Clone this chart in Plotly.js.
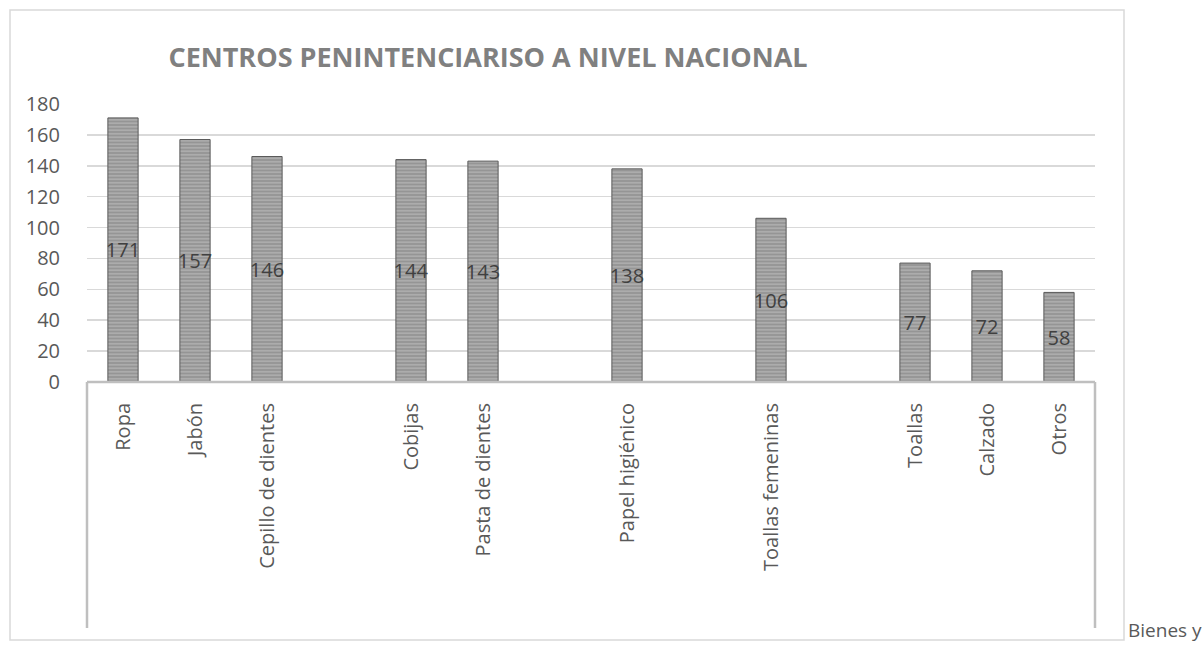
<!DOCTYPE html>
<html>
<head>
<meta charset="utf-8">
<script src="https://cdn.plot.ly/plotly-3.0.1.min.js"></script>
<style>html,body{margin:0;padding:0;background:#fff}#chart{width:1204px;height:645px}</style>
</head>
<body>
<div id="chart"></div>
<script>
// ---- data ----
const titleText = 'CENTROS PENINTENCIARISO A NIVEL NACIONAL';
const categories = ['Ropa', 'Jabón', 'Cepillo de dientes', 'Cobijas', 'Pasta de dientes', 'Papel higiénico', 'Toallas femeninas', 'Toallas', 'Calzado', 'Otros'];
const values = [171, 157, 146, 144, 143, 138, 106, 77, 72, 58];
const groupLabel = 'Bienes y';
const yTicks = [0, 20, 40, 60, 80, 100, 120, 140, 160, 180];
// empty slots on the category axis after these category indices
const gapAfter = [2, 4, 5, 6];

// build slot arrays (empty slots get unique blank names)
const xs = [], ys = [], txt = [];
let blank = ' ';
categories.forEach((c, i) => {
  xs.push(c); ys.push(values[i]); txt.push(String(values[i]));
  if (gapAfter.includes(i)) { xs.push(blank); ys.push(null); txt.push(''); blank += ' '; }
});

const L = 87, R = 1095, T = 104, B = 382, W = 1204, H = 645;
const pw = R - L, ph = B - T;
const px = v => (v - L) / pw;
const py = v => (B - v) / ph;
const FONT = 'Open Sans, sans-serif';

const trace = {
  type: 'bar',
  x: xs, y: ys, text: txt,
  textposition: 'inside', insidetextanchor: 'middle',
  textangle: 0,
  textfont: {family: FONT, size: 20, color: '#404040'},
  width: 0.42,
  marker: {
    color: '#a3a3a3',
    line: {color: '#5a5a5a', width: 1},
    pattern: {shape: '-', fgcolor: '#cfcfcf', bgcolor: '#959595', size: 3.5, solidity: 0.4, fillmode: 'overlay'}
  },
  hoverinfo: 'skip',
  cliponaxis: false
};

const grayLine = {color: '#bfbfbf', width: 2.5};
const layout = {
  width: W, height: H,
  margin: {l: L, r: W - R, t: T, b: H - B, pad: 0},
  paper_bgcolor: '#ffffff', plot_bgcolor: '#ffffff',
  showlegend: false,
  bargap: 0.58,
  uniformtext: {minsize: 20, mode: 'show'},
  title: {
    text: '<b>' + titleText + '</b>',
    font: {family: FONT, size: 27, color: '#808080'},
    xref: 'paper', x: px(488), xanchor: 'center',
    yref: 'container', y: 1 - 58 / H, yanchor: 'middle'
  },
  xaxis: {
    type: 'category',
    tickangle: -90,
    tickfont: {family: FONT, size: 20, color: '#595959'},
    ticks: 'outside', ticklen: 12, tickcolor: 'rgba(0,0,0,0)',
    showgrid: false, zeroline: false, showline: false,
    fixedrange: true
  },
  yaxis: {
    range: [0, 180],
    tickvals: yTicks,
    tickfont: {family: FONT, size: 20, color: '#595959'},
    showgrid: true, gridcolor: '#d9d9d9', gridwidth: 1.5,
    zeroline: false, showline: false,
    ticks: 'outside', ticklen: 22, tickcolor: 'rgba(0,0,0,0)',
    fixedrange: true
  },
  shapes: [
    // outer chart border
    {type: 'rect', xref: 'paper', yref: 'paper', x0: px(10), x1: px(1124), y0: py(640), y1: py(10),
     line: {color: '#d9d9d9', width: 1.5}, fillcolor: 'rgba(0,0,0,0)', layer: 'below'},
    // category axis box
    {type: 'line', xref: 'paper', yref: 'paper', x0: 0, x1: 1, y0: 0, y1: 0, line: grayLine},
    {type: 'line', xref: 'paper', yref: 'paper', x0: 0, x1: 0, y0: 0, y1: py(628), line: grayLine},
    {type: 'line', xref: 'paper', yref: 'paper', x0: 1, x1: 1, y0: 0, y1: py(628), line: grayLine}
  ],
  annotations: [
    {text: groupLabel, xref: 'paper', yref: 'paper', x: px(1126), y: py(630), xanchor: 'left', yanchor: 'middle',
     showarrow: false, font: {family: FONT, size: 19, color: '#595959'}}
  ]
};

Plotly.newPlot('chart', [trace], layout, {displayModeBar: false, staticPlot: true});
</script>
</body>
</html>
